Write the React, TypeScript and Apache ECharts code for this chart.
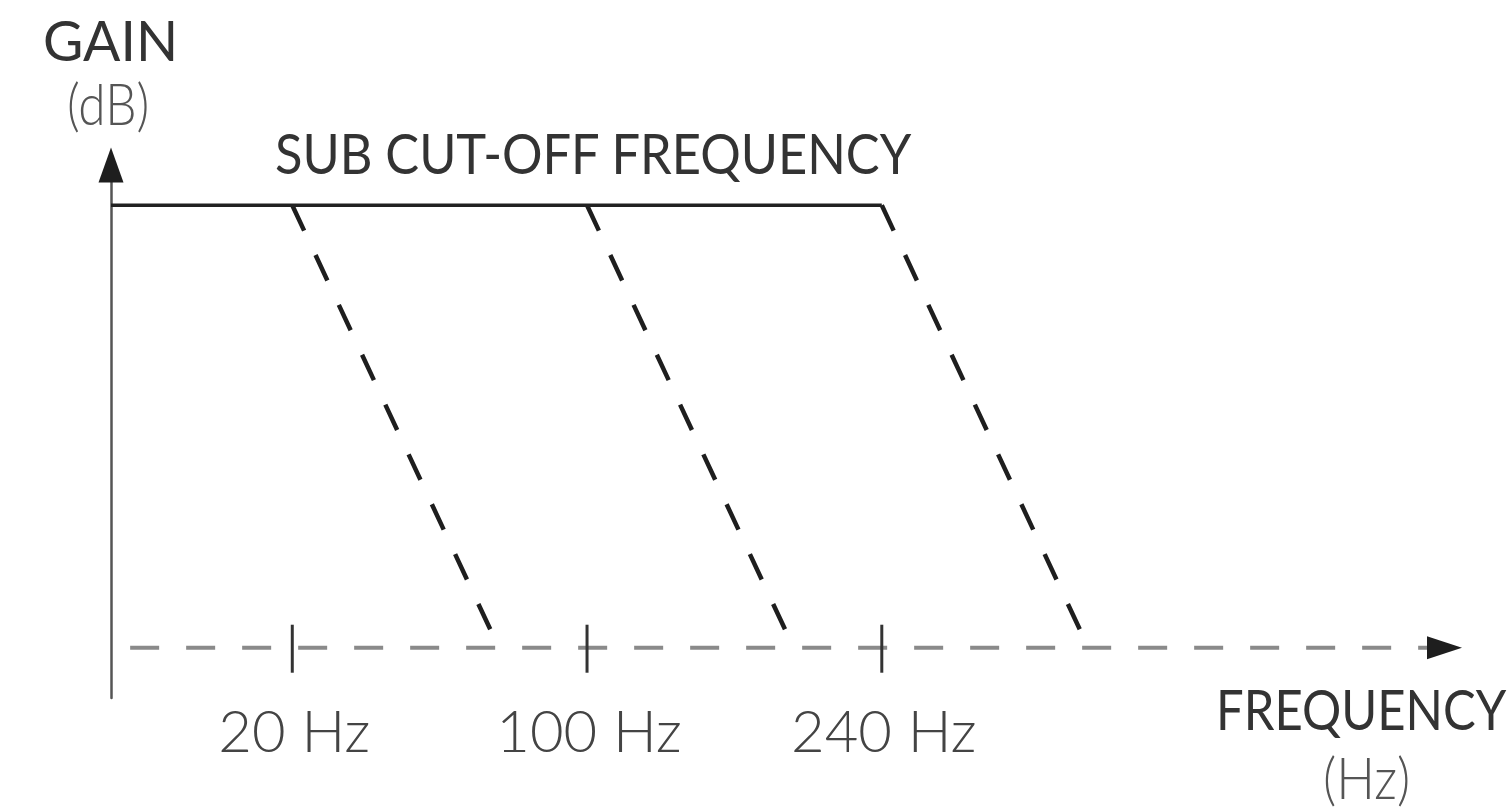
import React, { useEffect, useRef } from "react";
import * as echarts from "echarts";

// Cut-off frequencies and their positions on the (schematic) frequency axis
const cutoffLabels = ["20 Hz", "100 Hz", "240 Hz"];
const cutoffX = [6.15, 16.15, 26.15];
// Passband gain level and the end of each roll-off slope
const passbandGain = 44;
const slopeDropX = 6.8;
const slopeEndGain = 1.3;
// Axis extents
const xMin = 0;
const xMax = 45.8;
const yMin = -5;
const yMax = 48;
const baselineStartX = 0.65;
const baselineEndX = 45.24;

const FONT = "Lato";

export default function App() {
  const ref = useRef<HTMLDivElement>(null);

  useEffect(() => {
    if (!ref.current) return;
    const chart = echarts.init(ref.current, undefined, { renderer: "svg" });

    const slopeSeries = cutoffX.map((x, i) => ({
      type: "line",
      name: "slope" + i,
      data: [
        [x, passbandGain],
        [x + slopeDropX, slopeEndGain],
      ],
      symbol: "none",
      clip: false,
      z: 3,
      lineStyle: { color: "#1e1e1e", width: 4.5, type: [28, 27], cap: "butt" },
    }));

    const txt = (text: string, x: number, y: number, sx: number, weight: number, fill: string) => ({
      type: "text",
      x,
      y,
      scaleX: sx,
      style: {
        text,
        font: `${weight} 57px ${FONT}`,
        fill,
        align: "left",
        verticalAlign: "top",
      },
    });

    const option: any = {
      animation: false,
      backgroundColor: "#fff",
      grid: { left: 111, right: 49, top: 165, bottom: 112, containLabel: false },
      xAxis: {
        type: "value",
        min: xMin,
        max: xMax,
        axisLine: { show: false },
        axisTick: { show: false },
        axisLabel: { show: false },
        splitLine: { show: false },
      },
      yAxis: {
        type: "value",
        min: yMin,
        max: yMax,
        position: "left",
        axisLine: { show: true, onZero: false, lineStyle: { color: "#555", width: 2.5 } },
        axisTick: { show: false },
        axisLabel: { show: false },
        splitLine: { show: false },
      },
      graphic: [
        txt("GAIN", 43, 11, 0.97, 400, "#333"),
        txt("(dB)", 67, 74, 0.87, 300, "#555"),
        txt("SUB CUT-OFF FREQUENCY", 275, 123, 0.888, 400, "#333"),
        txt("FREQUENCY", 1216, 680, 0.86, 400, "#333"),
        txt("(Hz)", 1323, 748, 0.9, 300, "#555"),
      ],
      series: [
        {
          type: "line",
          name: "baseline",
          data: [
            [baselineStartX, 0],
            [baselineEndX, 0],
          ],
          symbol: "none",
          clip: false,
          z: 1,
          lineStyle: { color: "#8a8a8a", width: 4, type: [29, 27], cap: "butt" },
        },
        {
          type: "line",
          name: "passband",
          data: [
            [xMin, passbandGain],
            [cutoffX[cutoffX.length - 1], passbandGain],
          ],
          symbol: "none",
          clip: false,
          z: 4,
          lineStyle: { color: "#222", width: 3.5 },
        },
        ...slopeSeries,
        {
          type: "custom",
          name: "ticks",
          clip: false,
          z: 5,
          data: cutoffX.map((x, i) => [x, 0, cutoffLabels[i]]),
          renderItem: (params: any, api: any) => {
            const p = api.coord([api.value(0), api.value(1)]);
            const label = cutoffLabels[params.dataIndex];
            return {
              type: "group",
              children: [
                {
                  type: "line",
                  shape: { x1: p[0], y1: p[1] - 23, x2: p[0], y2: p[1] + 25 },
                  style: { stroke: "#333", lineWidth: 3 },
                },
                {
                  type: "text",
                  x: p[0] + 2,
                  y: p[1] + 82,
                  style: {
                    text: label,
                    font: `300 58px ${FONT}`,
                    fill: "#444",
                    align: "center",
                    verticalAlign: "middle",
                  },
                },
              ],
            };
          },
        },
        {
          type: "scatter",
          name: "arrows",
          clip: false,
          z: 6,
          data: [
            { value: [xMin, yMax], symbolSize: [25, 35], symbolRotate: 0 },
            { value: [baselineEndX, 0], symbolSize: [23, 35], symbolRotate: -90 },
          ],
          symbol: "triangle",
          itemStyle: { color: "#1e1e1e", opacity: 1 },
        },
      ],
    };

    chart.setOption(option);
    return () => chart.dispose();
  }, []);

  return (
    <div
      ref={ref}
      style={{ position: "fixed", left: 0, top: 0, width: 1510, height: 810, background: "#fff" }}
    />
  );
}
